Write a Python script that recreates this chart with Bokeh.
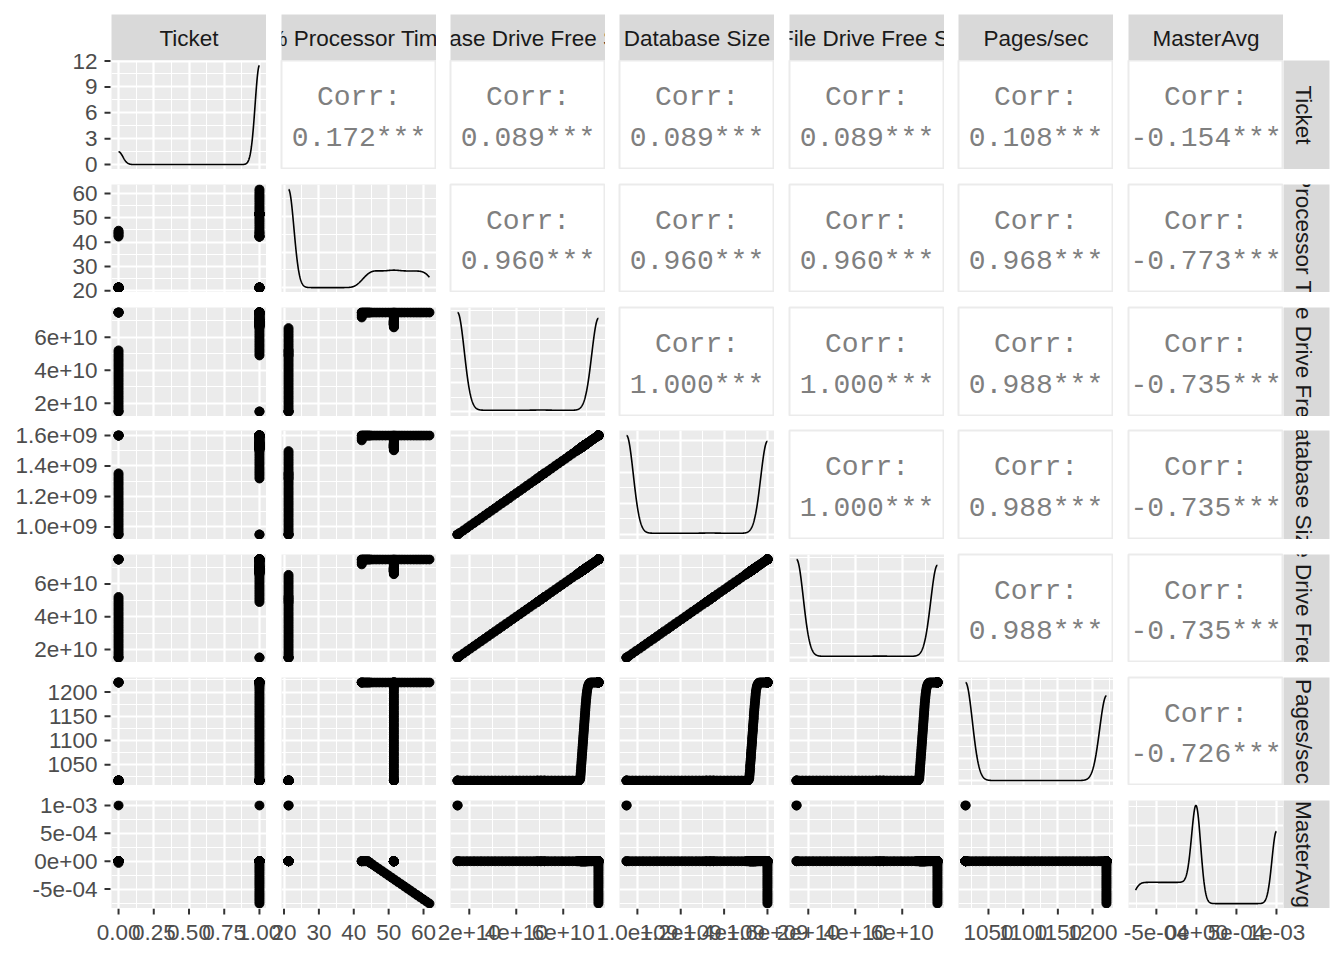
import numpy as np
from bokeh.plotting import figure
from bokeh.layouts import row, column
from bokeh.models import (Range1d, FixedTicker, BasicTicker, Grid, ColumnDataSource, Spacer)
from bokeh.embed import file_html
from bokeh.resources import INLINE
from bokeh.core.properties import value

# ---------------------------------------------------------------- variables
var_keys = ["ticket", "proc", "db_free", "db_size", "file_free", "pages", "master"]
var_labels = ["Ticket", "% Processor Time", "Database Drive Free Space",
              "Database Size", "Log File Drive Free Space", "Pages/sec", "MasterAvg"]

# ---------------------------------------------------------------- observations
# every distinct observation is listed once, with how often it occurs (count)
# idle state
idle_ticket = [0, 1, 0, 1]
idle_proc = [21.3, 21.3, 21.3, 21.3]
idle_db_free_e10 = [1.50, 1.50, 1.50, 1.50]
idle_db_size_e9 = [0.950, 0.950, 0.950, 0.950]
idle_file_free_e10 = [1.50, 1.50, 1.50, 1.50]
idle_pages = [1017, 1017, 1017, 1017]
idle_master_e4 = [10.0, 10.0, 0.0, 0.0]
idle_count = [2100, 16100, 2100, 13700]

# filling phase, Ticket 0
ramp0_db_free_e10 = [1.60, 1.75, 1.90, 2.05, 2.20, 2.35, 2.50, 2.65, 2.80, 2.95,
                     3.10, 3.25, 3.40, 3.55, 3.70, 3.85, 4.00, 4.15, 4.30, 4.45,
                     4.60, 4.75, 4.90, 5.05, 5.20]
ramp0_db_size_e9 = [0.961, 0.977, 0.993, 1.010, 1.026, 1.042, 1.058, 1.075, 1.091, 1.107,
                    1.123, 1.140, 1.156, 1.172, 1.188, 1.205, 1.221, 1.237, 1.253, 1.270,
                    1.286, 1.302, 1.318, 1.335, 1.351]
ramp0_file_free_e10 = [1.60, 1.75, 1.90, 2.05, 2.20, 2.35, 2.50, 2.65, 2.80, 2.95,
                       3.10, 3.25, 3.40, 3.55, 3.70, 3.85, 4.00, 4.15, 4.30, 4.45,
                       4.60, 4.75, 4.90, 5.05, 5.20]
ramp0_ticket = [0] * 25
ramp0_proc = [21.3] * 25
ramp0_pages = [1017] * 25
ramp0_master_e4 = [0.0] * 25
ramp0_count = [95] * 25

# filling phase, Ticket 1
ramp1_db_free_e10 = [4.90, 5.05, 5.20, 5.35, 5.50, 5.65, 5.80, 5.95, 6.10, 6.25, 6.40, 6.55]
ramp1_db_size_e9 = [1.318, 1.335, 1.351, 1.367, 1.383, 1.400, 1.416, 1.432, 1.448, 1.465,
                    1.481, 1.497]
ramp1_file_free_e10 = [4.90, 5.05, 5.20, 5.35, 5.50, 5.65, 5.80, 5.95, 6.10, 6.25, 6.40, 6.55]
ramp1_ticket = [1] * 12
ramp1_proc = [21.3] * 12
ramp1_pages = [1017] * 12
ramp1_master_e4 = [0.0] * 12
ramp1_count = [25, 25, 25, 95, 95, 95, 95, 95, 95, 95, 95, 95]

# paging burst
burst_db_free_e10 = [6.60, 6.64, 6.68, 6.71, 6.725, 6.735, 6.743, 6.75, 6.758, 6.765,
                     6.773, 6.78, 6.788, 6.795, 6.803, 6.81, 6.818, 6.825, 6.833, 6.84,
                     6.848, 6.855, 6.863, 6.87, 6.878, 6.885, 6.893, 6.90, 6.908, 6.915,
                     6.923, 6.93, 6.938, 6.945, 6.953, 6.96, 6.97, 6.98, 6.99, 7.00,
                     7.015, 7.03, 7.05, 7.07, 7.095, 7.12, 7.16, 7.22, 7.28, 7.34,
                     7.40, 7.45, 7.50]
burst_db_size_e9 = [1.503, 1.507, 1.511, 1.514, 1.516, 1.517, 1.518, 1.519, 1.520, 1.520,
                    1.521, 1.522, 1.523, 1.524, 1.524, 1.525, 1.526, 1.527, 1.528, 1.529,
                    1.529, 1.530, 1.531, 1.532, 1.533, 1.533, 1.534, 1.535, 1.536, 1.537,
                    1.537, 1.538, 1.539, 1.540, 1.541, 1.542, 1.543, 1.544, 1.545, 1.546,
                    1.547, 1.549, 1.551, 1.553, 1.556, 1.559, 1.563, 1.570, 1.576, 1.583,
                    1.589, 1.595, 1.600]
burst_file_free_e10 = [6.60, 6.64, 6.68, 6.71, 6.725, 6.735, 6.743, 6.75, 6.758, 6.765,
                       6.773, 6.78, 6.788, 6.795, 6.803, 6.81, 6.818, 6.825, 6.833, 6.84,
                       6.848, 6.855, 6.863, 6.87, 6.878, 6.885, 6.893, 6.90, 6.908, 6.915,
                       6.923, 6.93, 6.938, 6.945, 6.953, 6.96, 6.97, 6.98, 6.99, 7.00,
                       7.015, 7.03, 7.05, 7.07, 7.095, 7.12, 7.16, 7.22, 7.28, 7.34,
                       7.40, 7.45, 7.50]
burst_pages = [1017, 1017, 1017, 1019, 1022, 1027, 1032, 1037, 1042, 1047,
               1052, 1057, 1062, 1067, 1072, 1077, 1082, 1087, 1092, 1097,
               1102, 1107, 1112, 1117, 1122, 1127, 1132, 1137, 1142, 1147,
               1152, 1157, 1162, 1167, 1172, 1177, 1182, 1187, 1192, 1197,
               1202, 1207, 1211, 1214, 1217, 1219, 1220, 1220, 1220, 1220,
               1220, 1220, 1220]
burst_ticket = [1] * 53
burst_proc = [51.5] * 53
burst_master_e4 = [0.0] * 53
burst_count = [6] * 53

# corner
corner_ticket = [1, 1, 1]
corner_proc = [42.3, 42.3, 42.3]
corner_db_free_e10 = [7.20, 7.30, 7.40]
corner_db_size_e9 = [1.568, 1.578, 1.589]
corner_file_free_e10 = [7.20, 7.30, 7.40]
corner_pages = [1220, 1220, 1220]
corner_master_e4 = [0.0, 0.0, 0.0]
corner_count = [120, 120, 120]

# full state, Ticket 0
full0_ticket = [0] * 5
full0_proc = [42.3, 42.9, 43.5, 44.1, 44.7]
full0_db_free_e10 = [7.50] * 5
full0_db_size_e9 = [1.600] * 5
full0_file_free_e10 = [7.50] * 5
full0_pages = [1220] * 5
full0_master_e4 = [0.0, 0.0, 0.0, 0.0, -0.30]
full0_count = [280] * 5

# full state, Ticket 1
full1_ticket = [1] * 4
full1_proc = [42.3, 42.9, 43.5, 44.0]
full1_db_free_e10 = [7.50] * 4
full1_db_size_e9 = [1.600] * 4
full1_file_free_e10 = [7.50] * 4
full1_pages = [1220] * 4
full1_master_e4 = [0.0] * 4
full1_count = [260] * 4

# full state, load rising
load_ticket = [1] * 20
load_proc = [44.6, 45.5, 46.4, 47.3, 48.2, 49.1, 50.0, 50.9, 51.8, 52.7,
             53.6, 54.5, 55.4, 56.3, 57.2, 58.1, 59.0, 59.9, 60.8, 61.7]
load_master_e4 = [-0.26, -0.64, -1.03, -1.42, -1.80, -2.19, -2.58, -2.96, -3.35, -3.74,
                  -4.12, -4.51, -4.90, -5.28, -5.67, -6.05, -6.44, -6.83, -7.21, -7.60]
load_db_free_e10 = [7.50] * 20
load_db_size_e9 = [1.600] * 20
load_file_free_e10 = [7.50] * 20
load_pages = [1220] * 20
load_count = [1470] * 20

# correlations printed in the upper panels
corr_ticket = [0.172, 0.089, 0.089, 0.089, 0.108, -0.154]
corr_proc = [0.960, 0.960, 0.960, 0.968, -0.773]
corr_db_free = [1.000, 1.000, 0.988, -0.735]
corr_db_size = [1.000, 0.988, -0.735]
corr_file_free = [0.988, -0.735]
corr_pages = [-0.726]

# axis breaks and labels
ticket_ticks = [0.0, 0.25, 0.5, 0.75, 1.0]
ticket_tick_labels = ["0.00", "0.25", "0.50", "0.75", "1.00"]
ticket_minor = [0.125, 0.375, 0.625, 0.875]
proc_ticks = [20, 30, 40, 50, 60]
proc_tick_labels = ["20", "30", "40", "50", "60"]
proc_minor = [25, 35, 45, 55]
free_ticks = [2e10, 4e10, 6e10]
free_tick_labels = ["2e+10", "4e+10", "6e+10"]
free_minor = [3e10, 5e10, 7e10]
size_ticks = [1.0e9, 1.2e9, 1.4e9, 1.6e9]
size_tick_labels = ["1.0e+09", "1.2e+09", "1.4e+09", "1.6e+09"]
size_minor = [1.1e9, 1.3e9, 1.5e9]
pages_ticks = [1050, 1100, 1150, 1200]
pages_tick_labels = ["1050", "1100", "1150", "1200"]
pages_minor = [1025, 1075, 1125, 1175, 1225]
master_ticks = [-5e-4, 0.0, 5e-4, 1e-3]
master_tick_labels = ["-5e-04", "0e+00", "5e-04", "1e-03"]
master_minor = [-7.5e-4, -2.5e-4, 2.5e-4, 7.5e-4]
density_ticks = [0, 3, 6, 9, 12]
density_tick_labels = ["0", "3", "6", "9", "12"]
density_minor = [1.5, 4.5, 7.5, 10.5]

# ---------------------------------------------------------------- assemble
segs = ["idle", "ramp0", "ramp1", "burst", "corner", "full0", "full1", "load"]
G = globals()
def gather(name, scale=1.0):
    out = []
    for s in segs:
        out += list(G[f"{s}_{name}"])
    return np.array(out, dtype=float) * scale

data = {
    "ticket": gather("ticket"),
    "proc": gather("proc"),
    "db_free": gather("db_free_e10", 1e10),
    "db_size": gather("db_size_e9", 1e9),
    "file_free": gather("file_free_e10", 1e10),
    "pages": gather("pages"),
    "master": gather("master_e4", 1e-4),
}
counts = gather("count")
src = ColumnDataSource(data)

corr_rows = [corr_ticket, corr_proc, corr_db_free, corr_db_size, corr_file_free, corr_pages]
tick_info = {
    "ticket": (ticket_ticks, ticket_tick_labels, ticket_minor),
    "proc": (proc_ticks, proc_tick_labels, proc_minor),
    "db_free": (free_ticks, free_tick_labels, free_minor),
    "db_size": (size_ticks, size_tick_labels, size_minor),
    "file_free": (free_ticks, free_tick_labels, free_minor),
    "pages": (pages_ticks, pages_tick_labels, pages_minor),
    "master": (master_ticks, master_tick_labels, master_minor),
}

def data_range(k):
    lo, hi = data[k].min(), data[k].max()
    pad = 0.05 * (hi - lo)
    return lo - pad, hi + pad

def kde(x, w):
    n = w.sum()
    m = (w * x).sum() / n
    sd = np.sqrt((w * (x - m) ** 2).sum() / (n - 1))
    o = np.argsort(x, kind="stable")
    xs, cw = x[o], np.cumsum(w[o])
    def wq(p):
        return xs[min(np.searchsorted(cw, p * n), len(xs) - 1)]
    lo = min(sd, (wq(0.75) - wq(0.25)) / 1.34)
    if lo <= 0:
        lo = sd
    h = 0.9 * lo * n ** (-0.2)
    g = np.linspace(x.min(), x.max(), 512)
    d = (w[None, :] * np.exp(-0.5 * ((g[:, None] - x[None, :]) / h) ** 2)).sum(1)
    return g, d / (n * h * np.sqrt(2 * np.pi))

# ---------------------------------------------------------------- style / layout
FONT = "Liberation Sans"
PANEL_BG = "#EBEBEB"
STRIP_BG = "#D9D9D9"
AXIS_W = 111          # width of the left tick-label band
AXIS_H = 52           # height of the bottom tick-label band
TOTAL_W = 1344
col_gap = [0, 15, 14, 14, 15, 14, 15]
row_gap = [0, 15, 15, 14, 15, 15, 15]
row_h = [109, 108, 109, 109, 108, 108, 108]
FRAME_W = 155
STRIP = 46
TOP = 14
RIGHT = 15
GRID_H = TOP + STRIP + sum(row_gap) + sum(row_h)   # 908

# panel pixel positions (for the hand-placed tick-label bands)
panel_left, x = [], AXIS_W
for j in range(7):
    x += col_gap[j]
    panel_left.append(x)
    x += FRAME_W
panel_top, y = [], TOP + STRIP
for i in range(7):
    y += row_gap[i]
    panel_top.append(y)
    y += row_h[i]

def add_grid(p, dim, ticker):
    p.add_layout(Grid(dimension=dim, ticker=ticker, grid_line_color="white",
                      grid_line_width=2.2, minor_grid_line_color="white",
                      minor_grid_line_width=1.1))

def new_fig(w, h, bl, bt, bb, br, xr, yr, bg):
    p = figure(width=w, height=h, x_range=Range1d(*xr), y_range=Range1d(*yr),
               output_backend="svg", toolbar_location=None,
               x_axis_location=None, y_axis_location=None,
               min_border_left=bl, min_border_top=bt, min_border_bottom=bb,
               min_border_right=br, background_fill_color=bg,
               border_fill_color="white", outline_line_color=None)
    for g in p.grid:
        g.visible = False
    return p

# ---------------------------------------------------------------- panels
grid_rows = []
strip_row = []
for j in range(7):
    p = new_fig(col_gap[j] + FRAME_W, TOP + STRIP, col_gap[j], TOP, 0, 0,
                (0, 1), (0, 1), STRIP_BG)
    p.text(x=[0.5], y=[0.485], text=[var_labels[j]], text_align="center",
           text_baseline="alphabetic", text_font=value(FONT),
           text_font_size="22.5px", text_color="#1A1A1A")
    strip_row.append(p)
strip_row.append(Spacer(width=STRIP + RIGHT, height=TOP + STRIP))
grid_rows.append(row(*strip_row))

row_yrange = {}
for i in range(7):
    ki = var_keys[i]
    figs = []
    for j in range(7):
        kj = var_keys[j]
        w = col_gap[j] + FRAME_W
        h = row_gap[i] + row_h[i]
        if i == j:
            g, d = kde(data[kj], counts)
            top = d.max()
            yr = (-0.05 * top, 1.05 * top)
            if i == 0:
                row_yrange[0] = yr
            p = new_fig(w, h, col_gap[j], row_gap[i], 0, 0, data_range(kj), yr, PANEL_BG)
            add_grid(p, 0, FixedTicker(ticks=tick_info[kj][0], minor_ticks=tick_info[kj][2]))
            if i == 0:
                add_grid(p, 1, FixedTicker(ticks=density_ticks, minor_ticks=density_minor))
            else:
                add_grid(p, 1, BasicTicker(desired_num_ticks=4, num_minor_ticks=2))
            p.line(x=g, y=d, line_color="black", line_width=1.6)
        elif i > j:
            p = new_fig(w, h, col_gap[j], row_gap[i], 0, 0, data_range(kj),
                        data_range(ki), PANEL_BG)
            add_grid(p, 0, FixedTicker(ticks=tick_info[kj][0], minor_ticks=tick_info[kj][2]))
            add_grid(p, 1, FixedTicker(ticks=tick_info[ki][0], minor_ticks=tick_info[ki][2]))
            p.scatter(x=kj, y=ki, source=src, size=9, color="black")
        else:
            p = new_fig(w, h, col_gap[j], row_gap[i], 0, 0, (0, 1), (0, 1), "white")
            p.outline_line_color = "#EBEBEB"
            p.outline_line_width = 2
            v = corr_rows[i][j - i - 1]
            p.text(x=[0.5, 0.5], y=[0.66, 0.285], text=["Corr:", f"{v:.3f}***"],
                   text_align="center", text_baseline="alphabetic",
                   text_font=value("Liberation Mono"), text_font_size="28px",
                   text_color="#7F7F7F")
        figs.append(p)
    ps = new_fig(STRIP + RIGHT, row_gap[i] + row_h[i], 0, row_gap[i], 0, RIGHT,
                 (0, 1), (0, 1), STRIP_BG)
    ps.text(x=[0.445], y=[0.5], text=[var_labels[i]], angle=-np.pi / 2,
            text_align="center", text_baseline="alphabetic", text_font=value(FONT),
            text_font_size="22.5px", text_color="#1A1A1A")
    figs.append(ps)
    grid_rows.append(row(*figs))
    if i > 0:
        row_yrange[i] = data_range(ki)

main_grid = column(*grid_rows)

# ---------------------------------------------------------------- left tick labels
left = new_fig(AXIS_W, GRID_H, 0, 0, 0, 0, (0, AXIS_W), (0, GRID_H), "white")
for i in range(7):
    a, b = row_yrange[i]
    s = (b - a) / row_h[i]
    bottom_px = GRID_H - (panel_top[i] + row_h[i])
    left.extra_y_ranges[f"r{i}"] = Range1d(a - bottom_px * s, b + panel_top[i] * s)
    if i == 0:
        tks, labs = density_ticks, density_tick_labels
    else:
        tks, labs = tick_info[var_keys[i]][0], tick_info[var_keys[i]][1]
    n = len(tks)
    left.segment(x0=[AXIS_W - 7] * n, x1=[AXIS_W - 1] * n, y0=tks, y1=tks,
                 y_range_name=f"r{i}", line_color="#333333", line_width=2)
    left.text(x=[AXIS_W - 14] * n, y=tks, text=labs, y_range_name=f"r{i}",
              text_align="right", text_baseline="alphabetic", text_font=value(FONT),
              text_font_size="22.5px", text_color="#4D4D4D")

# ---------------------------------------------------------------- bottom tick labels
bottom = new_fig(TOTAL_W, AXIS_H, 0, 0, 0, 0, (0, TOTAL_W), (0, AXIS_H), "white")
for j in range(7):
    kj = var_keys[j]
    a, b = data_range(kj)
    s = (b - a) / FRAME_W
    right_px = TOTAL_W - (panel_left[j] + FRAME_W)
    bottom.extra_x_ranges[f"c{j}"] = Range1d(a - panel_left[j] * s, b + right_px * s)
    tks, labs = tick_info[kj][0], tick_info[kj][1]
    n = len(tks)
    bottom.segment(x0=tks, x1=tks, y0=[AXIS_H - 6] * n, y1=[AXIS_H] * n,
                   x_range_name=f"c{j}", line_color="#333333", line_width=2)
    bottom.text(x=tks, y=[AXIS_H - 24] * n, text=labs, x_range_name=f"c{j}",
                text_align="center", text_baseline="alphabetic", text_font=value(FONT),
                text_font_size="22.5px", text_color="#4D4D4D")

layout = column(row(left, main_grid), bottom)
open("out.html", "w").write(file_html(layout, INLINE))
